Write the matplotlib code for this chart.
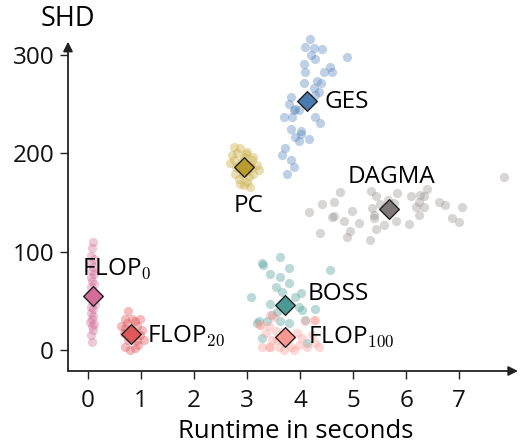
import matplotlib
matplotlib.use("Agg")
import matplotlib.pyplot as plt

plt.rcParams['font.family'] = ['Open Sans', 'DejaVu Sans']
plt.rcParams['mathtext.fontset'] = 'cm'

# ---- data ----
ges_x = [4.18, 4.10, 4.26, 4.42, 4.20, 4.29, 4.89, 4.07, 4.56, 4.45, 4.61, 4.10, 4.07, 4.32,
         4.39, 4.26, 4.35, 4.29, 3.82, 3.79, 3.91, 3.98, 3.88, 3.69, 3.85, 4.29, 4.37, 3.82,
         4.01, 4.01, 3.91, 4.16, 3.98, 3.72, 3.66, 3.82, 3.88, 3.76]
ges_y = [316, 308, 307, 306, 300, 296, 298, 291, 288, 283, 283, 283, 272, 274,
         271, 266, 262, 259, 257, 250, 245, 244, 244, 237, 237, 237, 231, 225,
         223, 220, 217, 215, 213, 205, 198, 193, 186, 179]

dagma_x = [7.85, 4.75, 5.33, 5.43, 5.82, 6.09, 6.26, 6.39, 6.34, 4.42, 4.64, 5.65, 5.78, 6.24,
           6.62, 6.73, 7.06, 4.16, 4.97, 5.36, 5.39, 6.18, 6.34, 4.61, 4.64, 6.24, 4.83, 5.11,
           5.39, 5.80, 5.58, 6.05, 6.86, 7.00, 4.37, 4.95, 4.89, 5.43, 5.31, 5.50, 5.70, 5.60]
dagma_y = [176, 161, 162, 157, 160, 157, 158, 164, 157, 148, 150, 153, 149, 150,
           150, 147, 145, 140, 141, 144, 137, 145, 145, 135, 136, 137, 131, 129,
           134, 131, 127, 128, 134, 130, 119, 121, 115, 123, 112, 148, 140, 145]

pc_x = [2.75, 2.87, 3.00, 2.72, 2.81, 3.12, 3.19, 2.68, 2.78, 3.12, 2.84, 3.00, 3.06, 2.94,
        2.87, 3.22, 2.75, 3.09, 2.94, 3.03, 2.85, 3.05, 2.90, 3.00, 2.80, 3.10, 2.92, 2.98]
pc_y = [206, 205, 201, 198, 200, 196, 188, 190, 179, 179, 174, 171, 166, 168,
        169, 183, 193, 193, 196, 176, 185, 188, 192, 182, 186, 185, 178, 199]

flop0_x = [0.10, 0.08, 0.06, 0.12, 0.05, 0.09, 0.07, 0.11, 0.05, 0.08, 0.12, 0.06, 0.09, 0.04,
           0.11, 0.07, 0.13, 0.05, 0.09, 0.06, 0.10, 0.08, 0.04, 0.12, 0.07, 0.09, 0.06, 0.08]
flop0_y = [110, 104, 96, 92, 88, 84, 80, 77, 74, 70, 67, 64, 60, 57,
           53, 50, 47, 44, 42, 38, 35, 31, 28, 26, 24, 20, 15, 8]

flop20_x = [0.76, 0.98, 0.62, 0.83, 0.73, 1.01, 0.67, 0.76, 0.92, 1.05, 0.79, 0.89, 0.95, 0.70,
            0.86, 0.92, 0.83, 0.70, 0.89, 0.70, 0.98]
flop20_y = [40, 31, 24, 31, 27, 20, 17, 10, 10, 10, 0, 2, 5, 3,
            15, 24, 20, 22, 29, 31, 15]

boss_x = [3.63, 3.31, 3.79, 4.57, 3.44, 3.63, 3.79, 3.54, 3.66, 4.01, 3.91, 3.08, 3.44, 3.98,
          4.29, 4.04, 3.57, 3.47, 4.10, 3.63, 3.22, 3.38, 3.79, 3.28, 4.13, 3.29, 3.19]
boss_y = [95, 86, 83, 81, 77, 74, 68, 64, 59, 58, 54, 54, 47, 44,
          42, 41, 39, 36, 30, 29, 29, 29, 27, 12, 7, 88, 27]

flop100_x = [3.44, 3.25, 3.41, 4.26, 4.10, 3.35, 3.54, 3.47, 3.28, 3.41, 3.60, 3.82, 3.98, 4.13,
             4.29, 4.04, 3.72, 3.95, 3.57, 3.88, 3.69, 4.23, 3.50, 4.29, 4.35, 3.44, 3.25]
flop100_y = [36, 25, 24, 30, 29, 17, 19, 10, 3, 3, 3, 3, 5, 3,
             7, 12, 8, 17, 10, 0, 0, 15, 34, 30, 3, 3, 25]

methods = ["FLOP$_{0}$", "FLOP$_{20}$", "FLOP$_{100}$", "BOSS", "PC", "GES", "DAGMA"]
mean_x = [0.09, 0.81, 3.72, 3.72, 2.95, 4.13, 5.67]
mean_y = [55, 16, 13, 46, 186, 253, 143]

point_colors = ["#d4719c", "#e04f55", "#ff9c96", "#4d9e98", "#c9ab3c", "#5585bb", "#9a9292"]
mean_colors = ["#d36c9b", "#e0575a", "#fa9790", "#4a9a93", "#b99c2e", "#4a7ab0", "#7f7878"]

# ---- figure ----
fig = plt.figure(figsize=(5.2, 4.46), dpi=100)
ax = fig.add_axes([68/520, 75/446, 450/520, 329.3/446])
ax.set_xlim(-0.377, 8.11)
ax.set_ylim(-21.4, 313.5)

series = [(flop0_x, flop0_y), (flop20_x, flop20_y), (boss_x, boss_y),
          (flop100_x, flop100_y), (pc_x, pc_y), (ges_x, ges_y), (dagma_x, dagma_y)]
color_idx = [0, 1, 3, 2, 4, 5, 6]
for (xs, ys), ci in zip(series, color_idx):
    ax.scatter(xs, ys, s=44, color=point_colors[ci], alpha=0.38, linewidths=0,
               clip_on=False, zorder=2)

for mx, my, mc in zip(mean_x, mean_y, mean_colors):
    ax.scatter([mx], [my], marker='D', s=100, color=mc, edgecolors='#222222',
               linewidths=1.0, zorder=5, clip_on=False)

# labels
lab_fs = 17.5
ax.text(4.47, 252, "GES", fontsize=lab_fs, va='center', ha='left', zorder=6)
ax.text(3.02, 146, "PC", fontsize=lab_fs, va='center', ha='center', zorder=6)
ax.text(4.89, 176, "DAGMA", fontsize=lab_fs, va='center', ha='left', zorder=6)
ax.text(-0.11, 83, methods[0], fontsize=lab_fs, va='center', ha='left', zorder=6)
ax.text(1.11, 14, methods[1], fontsize=lab_fs, va='center', ha='left', zorder=6)
ax.text(4.15, 57, methods[3], fontsize=lab_fs, va='center', ha='left', zorder=6)
ax.text(4.15, 13, methods[2], fontsize=lab_fs, va='center', ha='left', zorder=6)

# axes with arrows
for s in ax.spines.values():
    s.set_visible(False)
ax.annotate("", xy=(1, 0), xytext=(0, 0), xycoords='axes fraction',
            arrowprops=dict(arrowstyle='-|>', color='#222222', lw=1.3,
                            mutation_scale=14, shrinkA=0, shrinkB=0))
ax.annotate("", xy=(0, 1), xytext=(0, 0), xycoords='axes fraction',
            arrowprops=dict(arrowstyle='-|>', color='#222222', lw=1.3,
                            mutation_scale=14, shrinkA=0, shrinkB=0))

ax.set_xticks(range(0, 8))
ax.set_yticks([0, 100, 200, 300])
ax.tick_params(axis='both', direction='out', length=6, width=1.0, color='#222222',
               labelsize=17.5, labelcolor='#111111', pad=4)
ax.tick_params(axis='x', pad=7)

fig.text(296/520, 1 - 432/446, "Runtime in seconds", fontsize=18.5, ha='center', va='center')
fig.text(68/520, 1 - 19/446, "SHD", fontsize=19.5, ha='center', va='center')

fig.savefig("out.png", dpi=100)
